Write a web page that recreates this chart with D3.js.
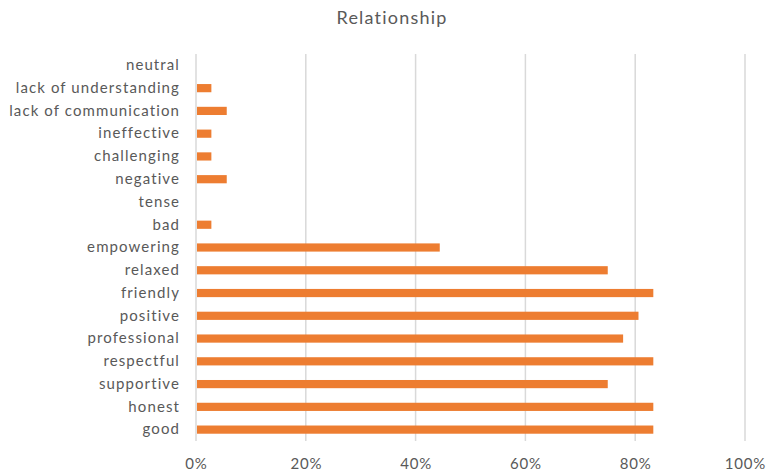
<!DOCTYPE html>
<html><head><meta charset="utf-8">
<script src="https://cdn.jsdelivr.net/npm/d3@7"></script>
<style>body{margin:0;background:#fff}svg{display:block}</style>
</head><body>
<svg id="c" width="769" height="474"></svg>
<script>
const categories = ["good","honest","supportive","respectful","professional","positive","friendly","relaxed","empowering","bad","tense","negative","challenging","ineffective","lack of communication","lack of understanding","neutral"];
const values = [0.833,0.833,0.75,0.833,0.778,0.806,0.833,0.75,0.444,0.028,0,0.056,0.028,0.028,0.056,0.028,0];
const xTicks = [0,0.2,0.4,0.6,0.8,1.0];
const title = "Relationship";

const svg = d3.select("#c");
const m = {left:196, right:745, top:54, bottom:441};
const x = d3.scaleLinear().domain([0,1]).range([m.left, m.right]);
const y = d3.scaleBand().domain(categories.slice().reverse()).range([m.top, m.bottom]).paddingInner(0.64).paddingOuter(0.32);

const font = "Lato, 'Open Sans', sans-serif";
svg.append("text").attr("x", 392).attr("y", 24).attr("text-anchor","middle")
  .attr("font-family", font).attr("font-size", 18).attr("letter-spacing", 1.2).attr("fill","#595959").text(title);

svg.append("g").selectAll("line").data(xTicks).join("line")
  .attr("x1", d=>x(d)).attr("x2", d=>x(d)).attr("y1", m.top).attr("y2", m.bottom)
  .attr("stroke","#d9d9d9").attr("stroke-width",1.5);

svg.append("g").selectAll("rect").data(categories).join("rect")
  .attr("x", x(0)+1).attr("y", d=>y(d))
  .attr("width", (d,i)=>Math.max(0, x(values[i])-x(0)-1)).attr("height", y.bandwidth())
  .attr("fill","#ED7D31");

const yAxis = svg.append("g").attr("transform",`translate(${m.left},0)`)
  .call(d3.axisLeft(y).tickSize(0).tickPadding(16));
yAxis.select(".domain").remove();
yAxis.selectAll("text").attr("font-family", font).attr("font-size", 15).attr("letter-spacing", 1.1).attr("fill","#595959");

const xAxis = svg.append("g").attr("transform",`translate(0,${m.bottom})`)
  .call(d3.axisBottom(x).tickValues(xTicks).tickFormat(d3.format(".0%")).tickSize(0).tickPadding(17));
xAxis.select(".domain").remove();
xAxis.selectAll("text").attr("font-family", font).attr("font-size", 15).attr("letter-spacing", 0.8).attr("fill","#595959");
</script>
</body></html>
